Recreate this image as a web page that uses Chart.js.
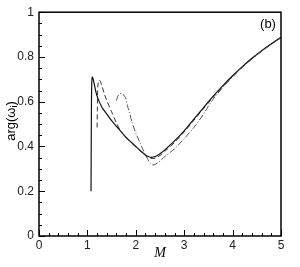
<!DOCTYPE html>
<html>
<head>
<meta charset="utf-8">
<script src="https://cdn.jsdelivr.net/npm/chart.js@4/dist/chart.umd.min.js"></script>
<style>
  html, body { margin: 0; padding: 0; background: #fff; }
  #wrap { width: 300px; height: 267px; }
</style>
</head>
<body>
<div id="wrap"><canvas id="chart" width="300" height="267"></canvas></div>
<script>
// M values and arg(omega_i) for the three curves
const solidM = [1.075, 1.08, 1.085, 1.09, 1.1, 1.12, 1.15, 1.2, 1.3, 1.4, 1.5, 1.6, 1.7, 1.8, 1.9, 2.0, 2.1, 2.2, 2.3, 2.4, 2.5, 2.6, 2.8, 3.0, 3.2, 3.4, 3.6, 3.8, 4.0, 4.2, 4.4, 4.6, 4.8, 5.0];
const solidArg = [0.2, 0.45, 0.62, 0.68, 0.71, 0.70, 0.67, 0.625, 0.575, 0.545, 0.515, 0.49, 0.465, 0.44, 0.42, 0.40, 0.38, 0.362, 0.352, 0.355, 0.368, 0.385, 0.425, 0.47, 0.522, 0.574, 0.625, 0.672, 0.716, 0.757, 0.794, 0.828, 0.859, 0.888];

const dashM = [1.2, 1.205, 1.21, 1.22, 1.24, 1.27, 1.3, 1.35, 1.4, 1.5, 1.6, 1.7, 1.8, 1.9, 2.0, 2.1, 2.2, 2.3, 2.4, 2.5, 2.6, 2.8, 3.0, 3.2, 3.4, 3.6, 3.8, 4.0, 4.2, 4.4, 4.6, 4.8, 5.0];
const dashArg = [0.485, 0.56, 0.63, 0.68, 0.697, 0.69, 0.67, 0.635, 0.605, 0.555, 0.505, 0.465, 0.44, 0.418, 0.398, 0.378, 0.36, 0.347, 0.348, 0.36, 0.378, 0.418, 0.465, 0.517, 0.569, 0.62, 0.668, 0.713, 0.754, 0.792, 0.826, 0.857, 0.886];

const dashDotM = [1.6, 1.63, 1.67, 1.72, 1.77, 1.8, 1.83, 1.87, 1.92, 2.0, 2.1, 2.2, 2.3, 2.35, 2.4, 2.5, 2.6, 2.8, 3.0, 3.2, 3.4, 3.5, 3.6, 3.8, 4.0, 4.2, 4.4, 4.6, 4.8, 5.0];
const dashDotArg = [0.605, 0.625, 0.635, 0.635, 0.625, 0.61, 0.58, 0.55, 0.51, 0.46, 0.41, 0.362, 0.325, 0.317, 0.32, 0.335, 0.355, 0.39, 0.435, 0.485, 0.545, 0.58, 0.612, 0.664, 0.711, 0.753, 0.791, 0.826, 0.857, 0.886];

const xTicks = [0, 1, 2, 3, 4, 5];
const yTicks = [0, 0.2, 0.4, 0.6, 0.8, 1];

const toPoints = (xs, ys) => xs.map((x, i) => ({ x: x, y: ys[i] }));
const fmt = v => String(Number(v.toFixed(1)));

const fontSans = '"Liberation Sans", Arial, Helvetica, sans-serif';

// inward ticks, frame box and labels
const framePlugin = {
    id: 'frame',
    afterDraw(chart) {
        const ctx = chart.ctx;
        const a = chart.chartArea;
        const xs = chart.scales.x;
        const ys = chart.scales.y;
        ctx.save();
        ctx.strokeStyle = '#000';
        ctx.lineWidth = 1;
        ctx.beginPath();
        for (let k = 0; k <= 25; k++) {
            const v = k * 0.2;
            const px = Math.round(xs.getPixelForValue(v)) + 0.5;
            const len = k % 5 === 0 ? 6 : 3;
            ctx.moveTo(px, a.bottom);
            ctx.lineTo(px, a.bottom - len);
        }
        for (let k = 0; k <= 20; k++) {
            const v = k * 0.05;
            const py = Math.round(ys.getPixelForValue(v)) + 0.5;
            const len = k % 4 === 0 ? 6 : 3;
            ctx.moveTo(a.left, py);
            ctx.lineTo(a.left + len, py);
        }
        ctx.stroke();

        ctx.lineWidth = 1.5;
        ctx.strokeRect(a.left, a.top, a.right - a.left, a.bottom - a.top);

        ctx.fillStyle = '#000';
        ctx.font = '13px ' + fontSans;
        ctx.textAlign = 'center';
        ctx.textBaseline = 'middle';
        ctx.fillText('(b)', 268, 24);

        ctx.font = 'italic 14px "Liberation Serif", "Times New Roman", serif';
        ctx.fillText('M', 160, 253);

        // y title with subscript
        ctx.translate(11, 121);
        ctx.rotate(-Math.PI / 2);
        ctx.textAlign = 'left';
        ctx.font = '13px ' + fontSans;
        const main = 'arg(ω';
        const sub = 'i';
        const close = ')';
        const w1 = ctx.measureText(main).width;
        ctx.font = '9px ' + fontSans;
        const w2 = ctx.measureText(sub).width;
        ctx.font = '13px ' + fontSans;
        const w3 = ctx.measureText(close).width;
        let x0 = -(w1 + w2 + w3) / 2;
        ctx.fillText(main, x0, 0);
        ctx.font = '9px ' + fontSans;
        ctx.fillText(sub, x0 + w1, 4);
        ctx.font = '13px ' + fontSans;
        ctx.fillText(close, x0 + w1 + w2, 0);
        ctx.restore();
    }
};

new Chart(document.getElementById('chart'), {
    type: 'line',
    data: {
        datasets: [
            {
                data: toPoints(dashDotM, dashDotArg),
                borderColor: '#444',
                borderWidth: 0.9,
                borderDash: [6, 2, 1, 2],
                pointRadius: 0,
                tension: 0.3,
                fill: false
            },
            {
                data: toPoints(dashM, dashArg),
                borderColor: '#333',
                borderWidth: 1,
                borderDash: [5, 3],
                pointRadius: 0,
                tension: 0.3,
                fill: false
            },
            {
                data: toPoints(solidM, solidArg),
                borderColor: '#111',
                borderWidth: 1.2,
                pointRadius: 0,
                tension: 0.3,
                fill: false
            }
        ]
    },
    options: {
        responsive: false,
        animation: false,
        devicePixelRatio: 1,
        layout: { padding: { top: 12, right: 19, left: 0, bottom: 0 } },
        plugins: { legend: { display: false }, tooltip: { enabled: false } },
        scales: {
            x: {
                type: 'linear',
                min: 0,
                max: 5,
                afterFit: scale => { scale.height = 31; },
                afterBuildTicks: scale => { scale.ticks = xTicks.map(v => ({ value: v })); },
                grid: { display: false, drawTicks: false },
                border: { display: false },
                ticks: { color: '#222', padding: 2, font: { size: 12, family: fontSans }, callback: v => fmt(v) }
            },
            y: {
                type: 'linear',
                min: 0,
                max: 1,
                afterFit: scale => { scale.width = 39; },
                afterBuildTicks: scale => { scale.ticks = yTicks.map(v => ({ value: v })); },
                grid: { display: false, drawTicks: false },
                border: { display: false },
                ticks: { color: '#222', padding: 5, font: { size: 12, family: fontSans }, callback: v => fmt(v) }
            }
        }
    },
    plugins: [framePlugin]
});
</script>
</body>
</html>
